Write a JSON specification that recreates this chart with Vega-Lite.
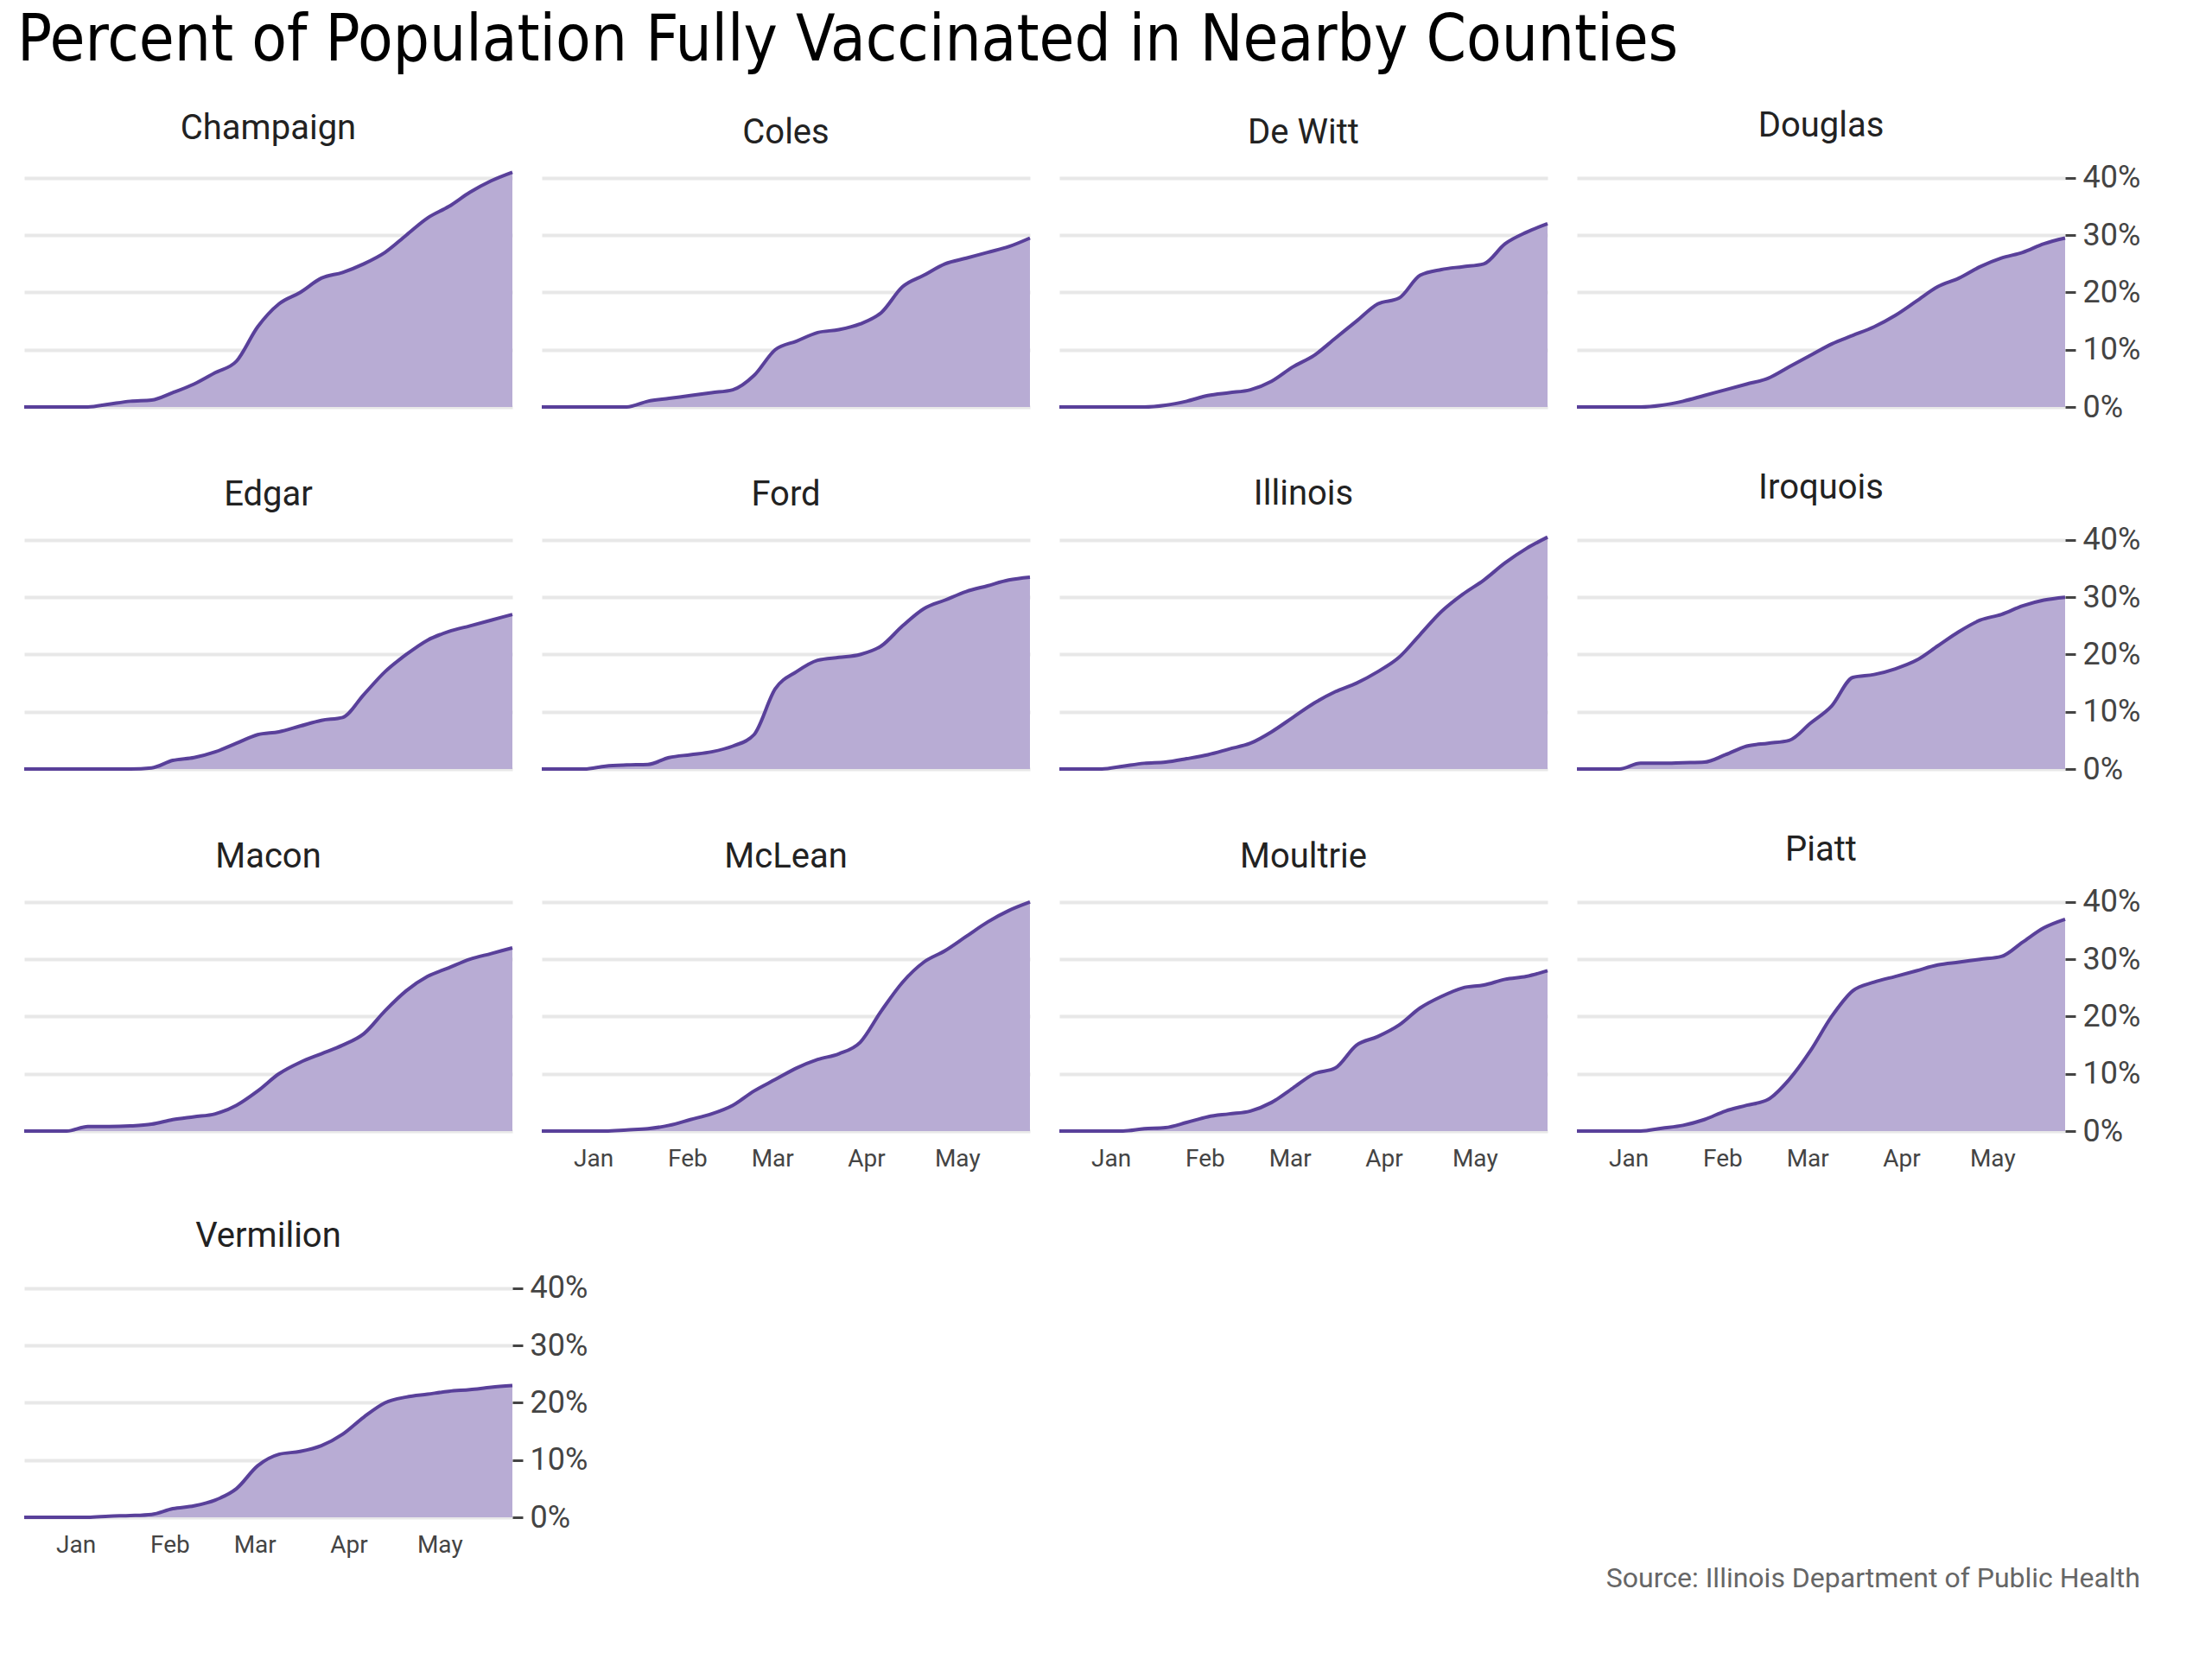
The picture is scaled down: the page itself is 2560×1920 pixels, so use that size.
{
  "$schema": "https://vega.github.io/schema/vega-lite/v6.json",
  "background": "white",
  "padding": {"left": 20, "top": 10, "right": 20, "bottom": 20},
  "title": {"text": "Source: Illinois Department of Public Health", "orient": "bottom", "anchor": "end", "font": "Roboto", "fontSize": 32, "fontWeight": "normal", "color": "#666666", "offset": 10},
  "data": {"values": [
    {"date": "2020-12-15", "Champaign": 0, "Coles": 0, "De Witt": 0, "Douglas": 0, "Edgar": 0, "Ford": 0, "Illinois": 0, "Iroquois": 0, "Macon": 0, "McLean": 0, "Moultrie": 0, "Piatt": 0, "Vermilion": 0},
    {"date": "2020-12-29", "Champaign": 0, "Coles": 0, "De Witt": 0, "Douglas": 0, "Edgar": 0, "Ford": 0, "Illinois": 0, "Iroquois": 0, "Macon": 0, "McLean": 0, "Moultrie": 0, "Piatt": 0, "Vermilion": 0},
    {"date": "2021-01-05", "Champaign": 0, "Coles": 0, "De Witt": 0, "Douglas": 0, "Edgar": 0, "Ford": 0.5, "Illinois": 0.5, "Iroquois": 1, "Macon": 0.8, "McLean": 0, "Moultrie": 0, "Piatt": 0, "Vermilion": 0},
    {"date": "2021-01-12", "Champaign": 0.5, "Coles": 0, "De Witt": 0, "Douglas": 0.3, "Edgar": 0, "Ford": 0.7, "Illinois": 1, "Iroquois": 1, "Macon": 0.8, "McLean": 0.2, "Moultrie": 0.4, "Piatt": 0.5, "Vermilion": 0.2},
    {"date": "2021-01-19", "Champaign": 1, "Coles": 1, "De Witt": 0.3, "Douglas": 1, "Edgar": 0, "Ford": 0.8, "Illinois": 1.2, "Iroquois": 1.1, "Macon": 0.9, "McLean": 0.4, "Moultrie": 0.6, "Piatt": 1, "Vermilion": 0.3},
    {"date": "2021-01-26", "Champaign": 1.2, "Coles": 1.5, "De Witt": 1, "Douglas": 2, "Edgar": 0.2, "Ford": 2, "Illinois": 1.8, "Iroquois": 1.2, "Macon": 1.2, "McLean": 1, "Moultrie": 1.5, "Piatt": 2, "Vermilion": 0.5},
    {"date": "2021-02-02", "Champaign": 2.5, "Coles": 2, "De Witt": 2, "Douglas": 3, "Edgar": 1.5, "Ford": 2.5, "Illinois": 2.5, "Iroquois": 2.5, "Macon": 2, "McLean": 2, "Moultrie": 2.5, "Piatt": 3.5, "Vermilion": 1.5},
    {"date": "2021-02-09", "Champaign": 4, "Coles": 2.5, "De Witt": 2.5, "Douglas": 4, "Edgar": 2, "Ford": 3, "Illinois": 3.5, "Iroquois": 4, "Macon": 2.5, "McLean": 3, "Moultrie": 3, "Piatt": 4.5, "Vermilion": 2},
    {"date": "2021-02-16", "Champaign": 6, "Coles": 3, "De Witt": 3, "Douglas": 5, "Edgar": 3, "Ford": 4, "Illinois": 4.5, "Iroquois": 4.5, "Macon": 3, "McLean": 4.5, "Moultrie": 3.5, "Piatt": 5.5, "Vermilion": 3},
    {"date": "2021-02-23", "Champaign": 8, "Coles": 5.5, "De Witt": 4.5, "Douglas": 7, "Edgar": 4.5, "Ford": 6, "Illinois": 6.5, "Iroquois": 5, "Macon": 4.5, "McLean": 7, "Moultrie": 5, "Piatt": 9, "Vermilion": 5},
    {"date": "2021-03-02", "Champaign": 14, "Coles": 10, "De Witt": 7, "Douglas": 9, "Edgar": 6, "Ford": 14, "Illinois": 9, "Iroquois": 8, "Macon": 7, "McLean": 9, "Moultrie": 7.5, "Piatt": 14, "Vermilion": 9},
    {"date": "2021-03-09", "Champaign": 18, "Coles": 11.5, "De Witt": 9, "Douglas": 11, "Edgar": 6.5, "Ford": 17, "Illinois": 11.5, "Iroquois": 11, "Macon": 10, "McLean": 11, "Moultrie": 10, "Piatt": 20, "Vermilion": 11},
    {"date": "2021-03-16", "Champaign": 20, "Coles": 13, "De Witt": 12, "Douglas": 12.5, "Edgar": 7.5, "Ford": 19, "Illinois": 13.5, "Iroquois": 16, "Macon": 12, "McLean": 12.5, "Moultrie": 11, "Piatt": 24.5, "Vermilion": 11.5},
    {"date": "2021-03-23", "Champaign": 22.5, "Coles": 13.5, "De Witt": 15, "Douglas": 14, "Edgar": 8.5, "Ford": 19.5, "Illinois": 15, "Iroquois": 16.5, "Macon": 13.5, "McLean": 13.5, "Moultrie": 15, "Piatt": 26, "Vermilion": 12.5},
    {"date": "2021-03-30", "Champaign": 23.5, "Coles": 14.5, "De Witt": 18, "Douglas": 16, "Edgar": 9, "Ford": 20, "Illinois": 17, "Iroquois": 17.5, "Macon": 15, "McLean": 15.5, "Moultrie": 16.5, "Piatt": 27, "Vermilion": 14.5},
    {"date": "2021-04-06", "Champaign": 25, "Coles": 16.5, "De Witt": 19, "Douglas": 18.5, "Edgar": 13, "Ford": 21.5, "Illinois": 19.5, "Iroquois": 19, "Macon": 17, "McLean": 21, "Moultrie": 18.5, "Piatt": 28, "Vermilion": 17.5},
    {"date": "2021-04-13", "Champaign": 27, "Coles": 21, "De Witt": 23, "Douglas": 21, "Edgar": 17, "Ford": 25, "Illinois": 23.5, "Iroquois": 21.5, "Macon": 21, "McLean": 26, "Moultrie": 21.5, "Piatt": 29, "Vermilion": 20},
    {"date": "2021-04-20", "Champaign": 30, "Coles": 23, "De Witt": 24, "Douglas": 22.5, "Edgar": 20, "Ford": 28, "Illinois": 27.5, "Iroquois": 24, "Macon": 24.5, "McLean": 29.5, "Moultrie": 23.5, "Piatt": 29.5, "Vermilion": 21},
    {"date": "2021-04-27", "Champaign": 33, "Coles": 25, "De Witt": 24.5, "Douglas": 24.5, "Edgar": 22.5, "Ford": 29.5, "Illinois": 30.5, "Iroquois": 26, "Macon": 27, "McLean": 31.5, "Moultrie": 25, "Piatt": 30, "Vermilion": 21.5},
    {"date": "2021-05-04", "Champaign": 35, "Coles": 26, "De Witt": 25, "Douglas": 26, "Edgar": 24, "Ford": 31, "Illinois": 33, "Iroquois": 27, "Macon": 28.5, "McLean": 34, "Moultrie": 25.5, "Piatt": 30.5, "Vermilion": 22},
    {"date": "2021-05-11", "Champaign": 37.5, "Coles": 27, "De Witt": 28.5, "Douglas": 27, "Edgar": 25, "Ford": 32, "Illinois": 36, "Iroquois": 28.5, "Macon": 30, "McLean": 36.5, "Moultrie": 26.5, "Piatt": 33, "Vermilion": 22.3},
    {"date": "2021-05-18", "Champaign": 39.5, "Coles": 28, "De Witt": 30.5, "Douglas": 28.5, "Edgar": 26, "Ford": 33, "Illinois": 38.5, "Iroquois": 29.5, "Macon": 31, "McLean": 38.5, "Moultrie": 27, "Piatt": 35.5, "Vermilion": 22.7},
    {"date": "2021-05-25", "Champaign": 41, "Coles": 29.5, "De Witt": 32, "Douglas": 29.5, "Edgar": 27, "Ford": 33.5, "Illinois": 40.5, "Iroquois": 30, "Macon": 32, "McLean": 40, "Moultrie": 28, "Piatt": 37, "Vermilion": 23}
  ]},
  "transform": [
    {"fold": ["Champaign", "Coles", "De Witt", "Douglas", "Edgar", "Ford", "Illinois", "Iroquois", "Macon", "McLean", "Moultrie", "Piatt", "Vermilion"], "as": ["county", "pct"]}
  ],
  "vconcat": [
    {
      "title": {"text": "Percent of Population Fully Vaccinated in Nearby Counties", "anchor": "start", "font": "DejaVu Sans Condensed, DejaVu Sans", "fontSize": 74, "fontWeight": "normal", "color": "#000000", "offset": 40},
      "hconcat": [
        {"width": 565, "height": 275, "title": "Champaign", "transform": [{"filter": "datum.county === 'Champaign'"}], "mark": {"type": "area", "interpolate": "monotone", "color": "#b8acd4", "opacity": 1, "line": {"color": "#59409a", "strokeWidth": 4}}, "encoding": {"x": {"field": "date", "type": "temporal", "scale": {"domain": ["2020-12-15", "2021-05-25"]}, "axis": null}, "y": {"field": "pct", "type": "quantitative", "scale": {"domain": [0, 41.5], "nice": false}, "axis": {"orient": "right", "values": [0, 10, 20, 30, 40], "labels": false, "ticks": false, "labelPadding": 0, "title": null}}}},
        {"width": 565, "height": 275, "title": "Coles", "transform": [{"filter": "datum.county === 'Coles'"}], "mark": {"type": "area", "interpolate": "monotone", "color": "#b8acd4", "opacity": 1, "line": {"color": "#59409a", "strokeWidth": 4}}, "encoding": {"x": {"field": "date", "type": "temporal", "scale": {"domain": ["2020-12-15", "2021-05-25"]}, "axis": null}, "y": {"field": "pct", "type": "quantitative", "scale": {"domain": [0, 41.5], "nice": false}, "axis": {"orient": "right", "values": [0, 10, 20, 30, 40], "labels": false, "ticks": false, "labelPadding": 0, "title": null}}}},
        {"width": 565, "height": 275, "title": "De Witt", "transform": [{"filter": "datum.county === 'De Witt'"}], "mark": {"type": "area", "interpolate": "monotone", "color": "#b8acd4", "opacity": 1, "line": {"color": "#59409a", "strokeWidth": 4}}, "encoding": {"x": {"field": "date", "type": "temporal", "scale": {"domain": ["2020-12-15", "2021-05-25"]}, "axis": null}, "y": {"field": "pct", "type": "quantitative", "scale": {"domain": [0, 41.5], "nice": false}, "axis": {"orient": "right", "values": [0, 10, 20, 30, 40], "labels": false, "ticks": false, "labelPadding": 0, "title": null}}}},
        {"width": 565, "height": 275, "title": "Douglas", "transform": [{"filter": "datum.county === 'Douglas'"}], "mark": {"type": "area", "interpolate": "monotone", "color": "#b8acd4", "opacity": 1, "line": {"color": "#59409a", "strokeWidth": 4}}, "encoding": {"x": {"field": "date", "type": "temporal", "scale": {"domain": ["2020-12-15", "2021-05-25"]}, "axis": null}, "y": {"field": "pct", "type": "quantitative", "scale": {"domain": [0, 41.5], "nice": false}, "axis": {"orient": "right", "values": [0, 10, 20, 30, 40], "labelExpr": "datum.value + '%'", "title": null}}}}
      ]
    },
    {
      "hconcat": [
        {"width": 565, "height": 275, "title": "Edgar", "transform": [{"filter": "datum.county === 'Edgar'"}], "mark": {"type": "area", "interpolate": "monotone", "color": "#b8acd4", "opacity": 1, "line": {"color": "#59409a", "strokeWidth": 4}}, "encoding": {"x": {"field": "date", "type": "temporal", "scale": {"domain": ["2020-12-15", "2021-05-25"]}, "axis": null}, "y": {"field": "pct", "type": "quantitative", "scale": {"domain": [0, 41.5], "nice": false}, "axis": {"orient": "right", "values": [0, 10, 20, 30, 40], "labels": false, "ticks": false, "labelPadding": 0, "title": null}}}},
        {"width": 565, "height": 275, "title": "Ford", "transform": [{"filter": "datum.county === 'Ford'"}], "mark": {"type": "area", "interpolate": "monotone", "color": "#b8acd4", "opacity": 1, "line": {"color": "#59409a", "strokeWidth": 4}}, "encoding": {"x": {"field": "date", "type": "temporal", "scale": {"domain": ["2020-12-15", "2021-05-25"]}, "axis": null}, "y": {"field": "pct", "type": "quantitative", "scale": {"domain": [0, 41.5], "nice": false}, "axis": {"orient": "right", "values": [0, 10, 20, 30, 40], "labels": false, "ticks": false, "labelPadding": 0, "title": null}}}},
        {"width": 565, "height": 275, "title": "Illinois", "transform": [{"filter": "datum.county === 'Illinois'"}], "mark": {"type": "area", "interpolate": "monotone", "color": "#b8acd4", "opacity": 1, "line": {"color": "#59409a", "strokeWidth": 4}}, "encoding": {"x": {"field": "date", "type": "temporal", "scale": {"domain": ["2020-12-15", "2021-05-25"]}, "axis": null}, "y": {"field": "pct", "type": "quantitative", "scale": {"domain": [0, 41.5], "nice": false}, "axis": {"orient": "right", "values": [0, 10, 20, 30, 40], "labels": false, "ticks": false, "labelPadding": 0, "title": null}}}},
        {"width": 565, "height": 275, "title": "Iroquois", "transform": [{"filter": "datum.county === 'Iroquois'"}], "mark": {"type": "area", "interpolate": "monotone", "color": "#b8acd4", "opacity": 1, "line": {"color": "#59409a", "strokeWidth": 4}}, "encoding": {"x": {"field": "date", "type": "temporal", "scale": {"domain": ["2020-12-15", "2021-05-25"]}, "axis": null}, "y": {"field": "pct", "type": "quantitative", "scale": {"domain": [0, 41.5], "nice": false}, "axis": {"orient": "right", "values": [0, 10, 20, 30, 40], "labelExpr": "datum.value + '%'", "title": null}}}}
      ]
    },
    {
      "hconcat": [
        {"width": 565, "height": 275, "title": "Macon", "transform": [{"filter": "datum.county === 'Macon'"}], "mark": {"type": "area", "interpolate": "monotone", "color": "#b8acd4", "opacity": 1, "line": {"color": "#59409a", "strokeWidth": 4}}, "encoding": {"x": {"field": "date", "type": "temporal", "scale": {"domain": ["2020-12-15", "2021-05-25"]}, "axis": null}, "y": {"field": "pct", "type": "quantitative", "scale": {"domain": [0, 41.5], "nice": false}, "axis": {"orient": "right", "values": [0, 10, 20, 30, 40], "labels": false, "ticks": false, "labelPadding": 0, "title": null}}}},
        {"width": 565, "height": 275, "title": "McLean", "transform": [{"filter": "datum.county === 'McLean'"}], "mark": {"type": "area", "interpolate": "monotone", "color": "#b8acd4", "opacity": 1, "line": {"color": "#59409a", "strokeWidth": 4}}, "encoding": {"x": {"field": "date", "type": "temporal", "scale": {"domain": ["2020-12-15", "2021-05-25"]}, "axis": {"tickCount": {"interval": "month"}, "format": "%b", "title": null, "grid": false}}, "y": {"field": "pct", "type": "quantitative", "scale": {"domain": [0, 41.5], "nice": false}, "axis": {"orient": "right", "values": [0, 10, 20, 30, 40], "labels": false, "ticks": false, "labelPadding": 0, "title": null}}}},
        {"width": 565, "height": 275, "title": "Moultrie", "transform": [{"filter": "datum.county === 'Moultrie'"}], "mark": {"type": "area", "interpolate": "monotone", "color": "#b8acd4", "opacity": 1, "line": {"color": "#59409a", "strokeWidth": 4}}, "encoding": {"x": {"field": "date", "type": "temporal", "scale": {"domain": ["2020-12-15", "2021-05-25"]}, "axis": {"tickCount": {"interval": "month"}, "format": "%b", "title": null, "grid": false}}, "y": {"field": "pct", "type": "quantitative", "scale": {"domain": [0, 41.5], "nice": false}, "axis": {"orient": "right", "values": [0, 10, 20, 30, 40], "labels": false, "ticks": false, "labelPadding": 0, "title": null}}}},
        {"width": 565, "height": 275, "title": "Piatt", "transform": [{"filter": "datum.county === 'Piatt'"}], "mark": {"type": "area", "interpolate": "monotone", "color": "#b8acd4", "opacity": 1, "line": {"color": "#59409a", "strokeWidth": 4}}, "encoding": {"x": {"field": "date", "type": "temporal", "scale": {"domain": ["2020-12-15", "2021-05-25"]}, "axis": {"tickCount": {"interval": "month"}, "format": "%b", "title": null, "grid": false}}, "y": {"field": "pct", "type": "quantitative", "scale": {"domain": [0, 41.5], "nice": false}, "axis": {"orient": "right", "values": [0, 10, 20, 30, 40], "labelExpr": "datum.value + '%'", "title": null}}}}
      ]
    },
    {
      "hconcat": [
        {"width": 565, "height": 275, "title": "Vermilion", "transform": [{"filter": "datum.county === 'Vermilion'"}], "mark": {"type": "area", "interpolate": "monotone", "color": "#b8acd4", "opacity": 1, "line": {"color": "#59409a", "strokeWidth": 4}}, "encoding": {"x": {"field": "date", "type": "temporal", "scale": {"domain": ["2020-12-15", "2021-05-25"]}, "axis": {"tickCount": {"interval": "month"}, "format": "%b", "title": null, "grid": false}}, "y": {"field": "pct", "type": "quantitative", "scale": {"domain": [0, 41.5], "nice": false}, "axis": {"orient": "right", "values": [0, 10, 20, 30, 40], "labelExpr": "datum.value + '%'", "title": null}}}}
      ]
    }
  ],
  "spacing": 55,
  "config": {
    "font": "Roboto",
    "view": {"stroke": null},
    "concat": {"spacing": 18},
    "title": {"font": "Roboto", "fontSize": 40, "fontWeight": "normal", "color": "#222222", "offset": 22},
    "axis": {
      "domain": false,
      "gridColor": "#e8e8e8",
      "gridWidth": 4,
      "tickColor": "#444444",
      "tickWidth": 3,
      "tickSize": 12,
      "labelFont": "Roboto",
      "labelColor": "#444444",
      "labelFontSize": 36,
      "labelPadding": 8
    },
    "axisX": {"labelFontSize": 28, "ticks": false, "labelPadding": 18}
  }
}
